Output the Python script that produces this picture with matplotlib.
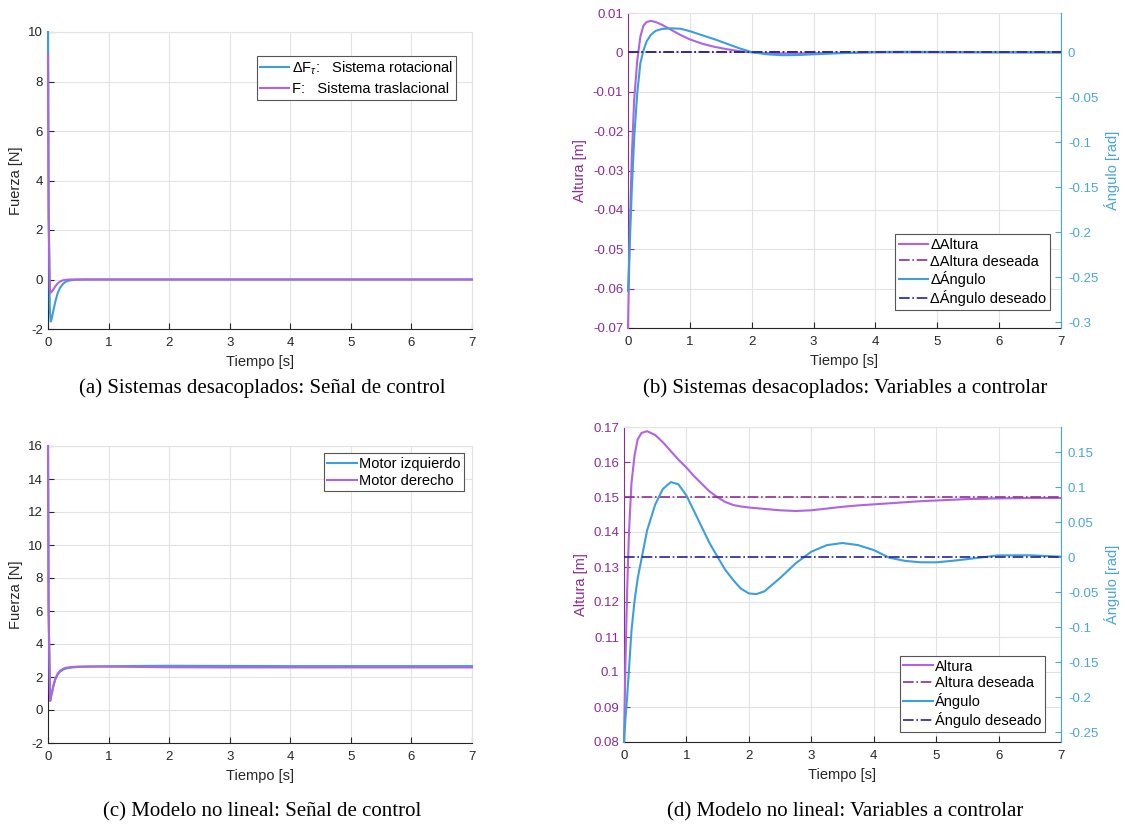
import matplotlib
matplotlib.use("Agg")
import matplotlib.pyplot as plt
from matplotlib.ticker import FuncFormatter

plt.rcParams['font.family'] = ['Liberation Sans', 'DejaVu Sans']
plt.rcParams['axes.unicode_minus'] = False
plt.rcParams['mathtext.fontset'] = 'custom'
plt.rcParams['mathtext.rm'] = 'Liberation Sans'
plt.rcParams['mathtext.it'] = 'Liberation Sans:italic'

# (a) Sistemas desacoplados: señal de control
t_a = [0, 0.01, 0.03, 0.045, 0.06, 0.09, 0.12, 0.16, 0.2, 0.25, 0.3, 0.36, 0.45, 0.6, 1.0, 7.0]
f_rot = [10, 3.0, -1.2, -1.7, -1.6, -1.25, -0.9, -0.55, -0.33, -0.17, -0.08, -0.035, -0.01, 0, 0, 0]
f_tras = [9.1, 2.5, -0.35, -0.53, -0.5, -0.4, -0.28, -0.16, -0.08, -0.03, -0.01, 0, 0, 0, 0, 0]

# (b) Sistemas desacoplados: variables a controlar
t_b = [0, 0.03, 0.06, 0.1, 0.15, 0.2, 0.25, 0.3, 0.37, 0.45, 0.55, 0.7, 0.85, 1.0, 1.2,
       1.4, 1.6, 1.8, 2.0, 2.25, 2.5, 2.75, 3.0, 3.5, 4.0, 4.5, 5.0, 6.0, 7.0]
altura_b = [-0.07, -0.045, -0.027, -0.012, -0.002, 0.004, 0.0068, 0.0077, 0.008, 0.0077,
            0.007, 0.0057, 0.0044, 0.0033, 0.0022, 0.0014, 0.0008, 0.0003, 0.0, -0.0002,
            -0.0003, -0.0003, -0.0002, -0.0001, 0, 0, 0, 0, 0]
angulo_b = [-0.265, -0.21, -0.155, -0.095, -0.045, -0.012, 0.002, 0.012, 0.0195, 0.024,
            0.026, 0.0267, 0.0262, 0.0235, 0.019, 0.0145, 0.0095, 0.0045, 0.0002, -0.0022,
            -0.0032, -0.003, -0.0022, -0.0008, 0.0003, 0.0006, 0.0004, 0.0001, 0]
ref_altura_b = [0, 0]
ref_angulo_b = [0, 0]
t_ref = [0, 7]

# (c) Modelo no lineal: señal de control
t_c = [0, 0.01, 0.035, 0.06, 0.09, 0.12, 0.16, 0.2, 0.25, 0.3, 0.4, 0.5, 0.7, 1.0,
       1.5, 2.0, 3.0, 4.0, 5.0, 6.0, 7.0]
motor_izq = [16, 6, 0.55, 0.95, 1.45, 1.85, 2.15, 2.33, 2.45, 2.52, 2.58, 2.61, 2.63,
             2.65, 2.67, 2.68, 2.67, 2.66, 2.66, 2.66, 2.66]
motor_der = [16, 6, 0.55, 1.0, 1.5, 1.9, 2.2, 2.38, 2.5, 2.56, 2.61, 2.63, 2.64,
             2.63, 2.61, 2.59, 2.58, 2.58, 2.58, 2.58, 2.58]

# (d) Modelo no lineal: variables a controlar
t_d = [0, 0.02, 0.05, 0.08, 0.12, 0.17, 0.22, 0.28, 0.37, 0.5, 0.62, 0.75, 0.87, 1.0,
       1.12, 1.25, 1.37, 1.5, 1.62, 1.75, 1.87, 2.0, 2.12, 2.25, 2.5, 2.75, 3.0, 3.25,
       3.5, 3.75, 4.0, 4.25, 4.5, 4.75, 5.0, 5.25, 5.5, 6.0, 6.5, 7.0]
altura_d = [0.08, 0.10, 0.123, 0.14, 0.154, 0.162, 0.1665, 0.1683, 0.1688, 0.1677,
            0.1657, 0.1631, 0.1607, 0.1584, 0.156, 0.1537, 0.1516, 0.1499, 0.1486,
            0.1477, 0.1473, 0.147, 0.1468, 0.1466, 0.1462, 0.146, 0.1462, 0.1467,
            0.1472, 0.1476, 0.1479, 0.1482, 0.1485, 0.1488, 0.149, 0.1492, 0.1494,
            0.1496, 0.1497, 0.1497]
angulo_d = [-0.264, -0.235, -0.2, -0.16, -0.105, -0.062, -0.03, -0.003, 0.038, 0.075,
            0.097, 0.107, 0.104, 0.088, 0.066, 0.042, 0.02, 0.0, -0.018, -0.033, -0.045,
            -0.052, -0.053, -0.049, -0.030, -0.009, 0.0076, 0.017, 0.020, 0.017, 0.010,
            -0.001, -0.0055, -0.0075, -0.0076, -0.0055, -0.003, 0.0024, 0.0025, 0.0005]
ref_altura_d = [0.15, 0.15]
ref_angulo_d = [0, 0]

captions = ["(a) Sistemas desacoplados: Señal de control",
            "(b) Sistemas desacoplados: Variables a controlar",
            "(c) Modelo no lineal: Señal de control",
            "(d) Modelo no lineal: Variables a controlar"]

BLUE = "#3c9fdc"
PURPLE = "#b063e3"
DARK_PURPLE = "#8e2f96"
DARK_BLUE = "#24249a"
AX_PURPLE = "#8c2d94"
AX_BLUE = "#4aa6d8"
GRAY = "#262626"
GRID = "#e3e3e3"

W, H = 1125, 825


def px_axes(fig, x0, y0, x1, y1):
    return fig.add_axes([x0 / W, 1 - y1 / H, (x1 - x0) / W, (y1 - y0) / H])


fmt = FuncFormatter(lambda v, p: f"{v:g}" if abs(v) > 1e-12 else "0")


def style_axes(ax, xlabel="Tiempo [s]"):
    ax.set_xlim(0, 7)
    ax.set_xticks(range(0, 8))
    ax.grid(True, color=GRID, linewidth=0.8)
    ax.set_axisbelow(True)
    ax.tick_params(direction="in", length=4, labelsize=9.5, colors=GRAY)
    ax.tick_params(axis="x", pad=6)
    for s in ["top", "right"]:
        ax.spines[s].set_color(GRID)
    for s in ["left", "bottom"]:
        ax.spines[s].set_color(GRAY)
        ax.spines[s].set_linewidth(0.8)
    ax.set_xlabel(xlabel, fontsize=10.5, color=GRAY, labelpad=4)
    ax.yaxis.set_major_formatter(fmt)


def right_axis(ax2, label):
    ax2.yaxis.set_major_formatter(fmt)
    ax2.tick_params(direction="in", length=4, labelsize=9.5, colors=AX_BLUE, pad=5)
    for s in ["top", "left", "bottom"]:
        ax2.spines[s].set_visible(False)
    ax2.spines["right"].set_color(AX_BLUE)
    ax2.set_ylabel(label, fontsize=10.5, color=AX_BLUE, labelpad=4)


def legend(ax, handles, loc, anchor, spacing=0.2):
    lg = ax.legend(handles=handles, loc=loc, bbox_to_anchor=anchor, fontsize=10.5,
                   fancybox=False, framealpha=1, edgecolor="#555555",
                   handlelength=2.0, handletextpad=0.15, borderpad=0.25,
                   labelspacing=spacing, borderaxespad=0)
    lg.get_frame().set_linewidth(0.8)
    return lg


def line(ax, x, y, **kw):
    return ax.plot(x, y, zorder=3, clip_on=False, **kw)[0]


fig = plt.figure(figsize=(11.25, 8.25), dpi=100)

# (a)
ax = px_axes(fig, 48, 32, 472, 329)
l1 = line(ax, t_a, f_rot, color=BLUE, lw=1.5, label=r"ΔF$_{\tau}$:   Sistema rotacional")
l2 = line(ax, t_a, f_tras, color=PURPLE, lw=1.5, label="F:   Sistema traslacional")
ax.set_ylim(-2, 10)
ax.set_yticks(range(-2, 11, 2))
style_axes(ax)
ax.set_ylabel("Fuerza [N]", fontsize=10.5, color=GRAY)
legend(ax, [l1, l2], "upper right", (0.962, 0.92), spacing=0.35)

# (b)
ax = px_axes(fig, 628, 13, 1061, 328)
ax2 = ax.twinx()
la = line(ax, t_b, altura_b, color=PURPLE, lw=1.5, label="ΔAltura")
lad = line(ax, t_ref, ref_altura_b, color=DARK_PURPLE, lw=1.2, ls="-.", label="ΔAltura deseada")
lg_ = line(ax2, t_b, angulo_b, color=BLUE, lw=1.5, label="ΔÁngulo")
lgd = line(ax2, t_ref, ref_angulo_b, color=DARK_BLUE, lw=1.2, ls="-.", label="ΔÁngulo deseado")
ax.set_ylim(-0.07, 0.01)
ax.set_yticks([-0.07, -0.06, -0.05, -0.04, -0.03, -0.02, -0.01, 0, 0.01])
ax2.set_ylim(-0.3063, 0.0437)
ax2.set_yticks([-0.3, -0.25, -0.2, -0.15, -0.1, -0.05, 0])
style_axes(ax)
ax.set_ylabel("Altura [m]", fontsize=10.5, color=AX_PURPLE, labelpad=4)
ax.tick_params(axis="y", colors=AX_PURPLE)
ax.spines["left"].set_color(AX_PURPLE)
right_axis(ax2, "Ángulo [rad]")
legend(ax2, [la, lad, lg_, lgd], "lower right", (0.975, 0.057))

# (c)
ax = px_axes(fig, 48, 446, 472, 743)
m1 = line(ax, t_c, motor_izq, color=BLUE, lw=1.5, label="Motor izquierdo")
m2 = line(ax, t_c, motor_der, color=PURPLE, lw=1.5, label="Motor derecho")
ax.set_ylim(-2, 16)
ax.set_yticks(range(-2, 17, 2))
style_axes(ax)
ax.set_ylabel("Fuerza [N]", fontsize=10.5, color=GRAY)
legend(ax, [m1, m2], "upper right", (0.981, 0.976))

# (d)
ax = px_axes(fig, 624, 427, 1061, 742)
ax2 = ax.twinx()
da = line(ax, t_d, altura_d, color=PURPLE, lw=1.5, label="Altura")
dad = line(ax, t_ref, ref_altura_d, color=DARK_PURPLE, lw=1.2, ls="-.", label="Altura deseada")
dg = line(ax2, t_d, angulo_d, color=BLUE, lw=1.5, label="Ángulo")
dgd = line(ax2, t_ref, ref_angulo_d, color=DARK_BLUE, lw=1.2, ls="-.", label="Ángulo deseado")
ax.set_ylim(0.08, 0.17)
ax.set_yticks([0.08, 0.09, 0.1, 0.11, 0.12, 0.13, 0.14, 0.15, 0.16, 0.17])
ax2.set_ylim(-0.26425, 0.18575)
ax2.set_yticks([-0.25, -0.2, -0.15, -0.1, -0.05, 0, 0.05, 0.1, 0.15])
style_axes(ax)
ax.set_ylabel("Altura [m]", fontsize=10.5, color=AX_PURPLE, labelpad=4)
ax.tick_params(axis="y", colors=AX_PURPLE)
ax.spines["left"].set_color(AX_PURPLE)
right_axis(ax2, "Ángulo [rad]")
legend(ax2, [da, dad, dg, dgd], "lower right", (0.963, 0.032))

# captions
cap_pos = [(262, 388), (845, 388), (262, 812), (845, 812)]
for (cx, cy), txt in zip(cap_pos, captions):
    fig.text(cx / W, 1 - cy / H, txt, ha="center", va="center",
             fontsize=15, family="Liberation Serif", color="black")

fig.savefig("out.png", dpi=100)
